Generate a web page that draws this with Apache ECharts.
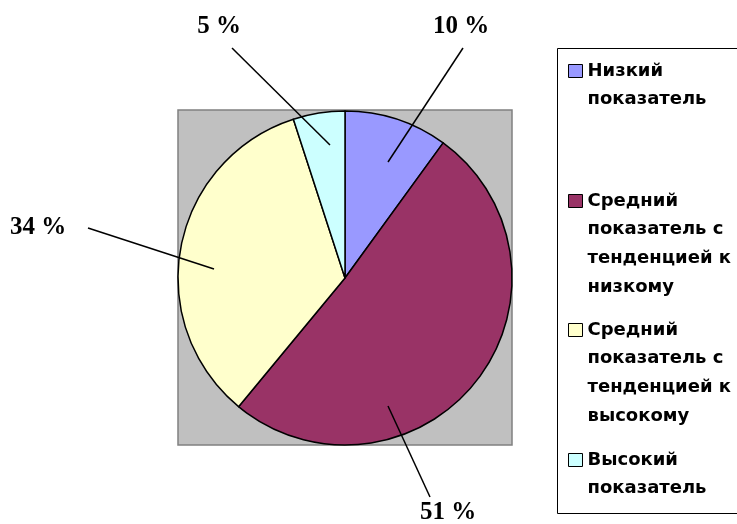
<!DOCTYPE html>
<html>
<head>
<meta charset="utf-8">
<script src="https://cdn.jsdelivr.net/npm/echarts@6/dist/echarts.min.js"></script>
<style>
html,body{margin:0;padding:0;background:#fff;}
#chart{width:737px;height:524px;}
</style>
</head>
<body>
<div id="chart"></div>
<script>
// ---- data ----
var categories = [
  'Низкий\nпоказатель',
  'Средний\nпоказатель с\nтенденцией к\nнизкому',
  'Средний\nпоказатель с\nтенденцией к\nвысокому',
  'Высокий\nпоказатель'
];
var values = [10, 51, 34, 5];
var colors = ['#9999FF', '#993366', '#FFFFCC', '#CCFFFF'];

// ---- layout constants ----
var cx = 345, cy = 278, R = 167;
// label geometry offsets from pie centre: inner end of leader, outer end, label centre
var labelGeom = [
  {inner: [43, -116], outer: [118, -230], label: [116, -251]},
  {inner: [43, 128], outer: [85, 219], label: [103, 235]},
  {inner: [-131, -9], outer: [-257, -50], label: [-307, -50]},
  {inner: [-15, -133], outer: [-113, -230], label: [-126, -251]}
];
var legendFirstLineY = [71, 201, 330, 460];
var LH = 28.7;

var chart = echarts.init(document.getElementById('chart'), null, {renderer: 'canvas'});

var data = categories.map(function (c, i) {
  return {name: c, value: values[i], itemStyle: {color: colors[i]}};
});
var labelData = categories.map(function (c, i) {
  return {name: c, value: values[i]};
});

var legends = categories.map(function (c, i) {
  var n = c.split('\n').length;
  var H = (2 * n - 1) * LH;
  var pre = '';
  for (var k = 0; k < n - 1; k++) pre += '\n';
  return {
    data: [c],
    orient: 'vertical',
    left: 568,
    top: legendFirstLineY[i] - H / 2,
    padding: 0,
    icon: 'rect',
    itemWidth: 14,
    itemHeight: 13,
    itemStyle: {borderColor: '#000', borderWidth: 1},
    selectedMode: false,
    formatter: function (name) { return pre + name; },
    textStyle: {
      fontFamily: 'DejaVu Sans',
      fontWeight: 'bold',
      fontSize: 18,
      color: '#000',
      lineHeight: LH
    }
  };
});

var option = {
  animation: false,
  backgroundColor: '#fff',
  graphic: [
    {
      type: 'rect', z: -10,
      shape: {x: cx - R, y: cy - R - 1, width: 2 * R, height: 2 * R + 1},
      style: {fill: '#C0C0C0', stroke: '#808080', lineWidth: 1.5}
    },
    {
      type: 'rect', z: -10,
      shape: {x: 557.5, y: 48.5, width: 220, height: 465},
      style: {fill: 'none', stroke: '#000', lineWidth: 1}
    }
  ],
  legend: legends,
  series: [{
    type: 'pie',
    z: 2,
    center: [cx, cy],
    radius: R,
    startAngle: 90,
    clockwise: true,
    data: data,
    itemStyle: {borderColor: '#000', borderWidth: 1.5},
    emphasis: {disabled: true},
    label: {show: false},
    labelLine: {show: false}
  }, {
    type: 'pie',
    z: 5,
    center: [cx, cy],
    radius: R,
    startAngle: 90,
    clockwise: true,
    avoidLabelOverlap: false,
    silent: true,
    data: labelData,
    itemStyle: {color: 'rgba(0,0,0,0)', borderWidth: 0},
    emphasis: {disabled: true},
    label: {
      show: true,
      position: 'outside',
      formatter: function (p) { return p.value + ' %'; },
      fontFamily: 'Liberation Serif',
      fontWeight: 'bold',
      fontSize: 25,
      color: '#000'
    },
    labelLine: {
      show: true,
      lineStyle: {color: '#000', width: 1.5}
    },
    labelLayout: function (p) {
      var g = labelGeom[p.dataIndex];
      return {
        x: cx + g.label[0],
        y: cy + g.label[1],
        align: 'center',
        verticalAlign: 'middle',
        labelLinePoints: [
          [cx + g.inner[0], cy + g.inner[1]],
          [cx + g.outer[0], cy + g.outer[1]],
          [cx + g.outer[0], cy + g.outer[1]]
        ]
      };
    }
  }]
};
chart.setOption(option);
</script>
</body>
</html>
